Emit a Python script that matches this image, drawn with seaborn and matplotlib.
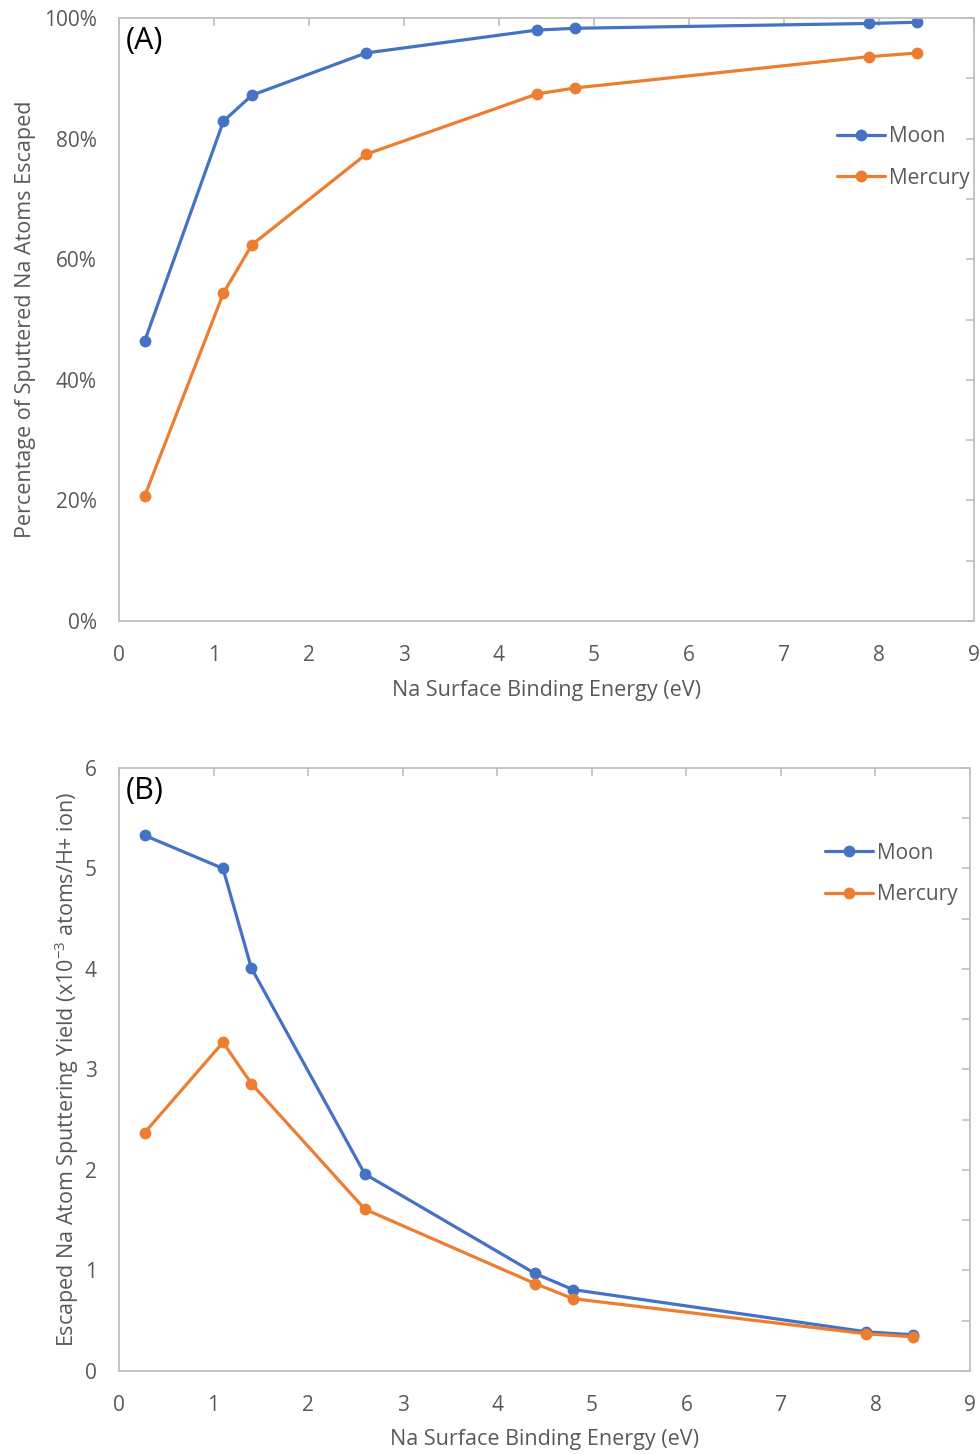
import numpy as np
import pandas as pd
import matplotlib
matplotlib.use("Agg")
import matplotlib.pyplot as plt
from matplotlib.ticker import MultipleLocator, FuncFormatter
import seaborn as sns

# Data
binding_energy = [0.27, 1.1, 1.4, 2.6, 4.4, 4.8, 7.9, 8.4]
moon_pct = [46.4, 82.9, 87.2, 94.2, 98.0, 98.3, 99.1, 99.3]
mercury_pct = [20.7, 54.4, 62.4, 77.4, 87.4, 88.4, 93.6, 94.2]
moon_yield = [5.33, 5.00, 4.01, 1.96, 0.97, 0.81, 0.39, 0.36]
mercury_yield = [2.37, 3.27, 2.86, 1.61, 0.87, 0.72, 0.37, 0.34]
bodies = ["Moon", "Mercury"]

df_a = pd.DataFrame({
    "energy": binding_energy * 2,
    "value": moon_pct + mercury_pct,
    "body": ["Moon"] * 8 + ["Mercury"] * 8,
})
df_b = pd.DataFrame({
    "energy": binding_energy * 2,
    "value": moon_yield + mercury_yield,
    "body": ["Moon"] * 8 + ["Mercury"] * 8,
})

sns.set_style("white")
plt.rcParams["font.family"] = ["Open Sans", "DejaVu Sans"]
palette = {"Moon": "#4472C4", "Mercury": "#ED7D31"}
axis_grey = "#BFBFBF"
text_grey = "#595959"

fig = plt.figure(figsize=(9.8, 14.54), dpi=100)
ax_a = fig.add_axes([0.1214, 0.5729, 0.8724, 0.4147])
ax_b = fig.add_axes([0.1214, 0.0571, 0.8684, 0.4147])


def style_axes(ax, anchor):
    for s in ax.spines.values():
        s.set_color(axis_grey)
        s.set_linewidth(1.3)
    ax.tick_params(axis="both", which="both", direction="in", color=axis_grey,
                   width=1.2, length=6, top=True, right=True,
                   labelcolor=text_grey, labelsize=15)
    ax.tick_params(axis="x", pad=17)
    ax.tick_params(axis="y", pad=16)
    ax.set_xlim(0, 9)
    ax.xaxis.set_major_locator(MultipleLocator(1))
    ax.set_xlabel("Na Surface Binding Energy (eV)", color=text_grey,
                  fontsize=15.5, labelpad=10)
    ax.legend(frameon=False, fontsize=15, labelcolor=text_grey,
              handlelength=2.3, handletextpad=0.2, borderaxespad=0,
              labelspacing=1.0, loc="upper left", bbox_to_anchor=anchor)


for ax, df in [(ax_a, df_a), (ax_b, df_b)]:
    sns.lineplot(data=df, x="energy", y="value", hue="body", hue_order=bodies,
                 palette=palette, marker="o", markersize=8.5, markeredgewidth=0,
                 linewidth=2.3, ax=ax)

# Panel A
ax_a.set_ylim(0, 100)
ax_a.yaxis.set_major_locator(MultipleLocator(20))
ax_a.yaxis.set_minor_locator(MultipleLocator(10))
ax_a.yaxis.set_major_formatter(FuncFormatter(lambda v, p: f"{v:.0f}%"))
ax_a.set_ylabel("Percentage of Sputtered Na Atoms Escaped", color=text_grey,
                fontsize=15.5, labelpad=6)
style_axes(ax_a, (0.83, 0.835))
ax_a.text(0.008, 0.987, "(A)", transform=ax_a.transAxes, fontsize=22,
          va="top", ha="left", color="black")

# Panel B
ax_b.set_ylim(0, 6)
ax_b.yaxis.set_major_locator(MultipleLocator(1))
ax_b.yaxis.set_minor_locator(MultipleLocator(0.5))
ax_b.set_ylabel(r"Escaped Na Atom Sputtering Yield (x10$^{\mathregular{-3}}$ atoms/H+ ion)",
                color=text_grey, fontsize=15.5, labelpad=3)
style_axes(ax_b, (0.82, 0.89))
ax_b.text(0.008, 0.987, "(B)", transform=ax_b.transAxes, fontsize=22,
          va="top", ha="left", color="black")

fig.savefig("out.png", dpi=100)
